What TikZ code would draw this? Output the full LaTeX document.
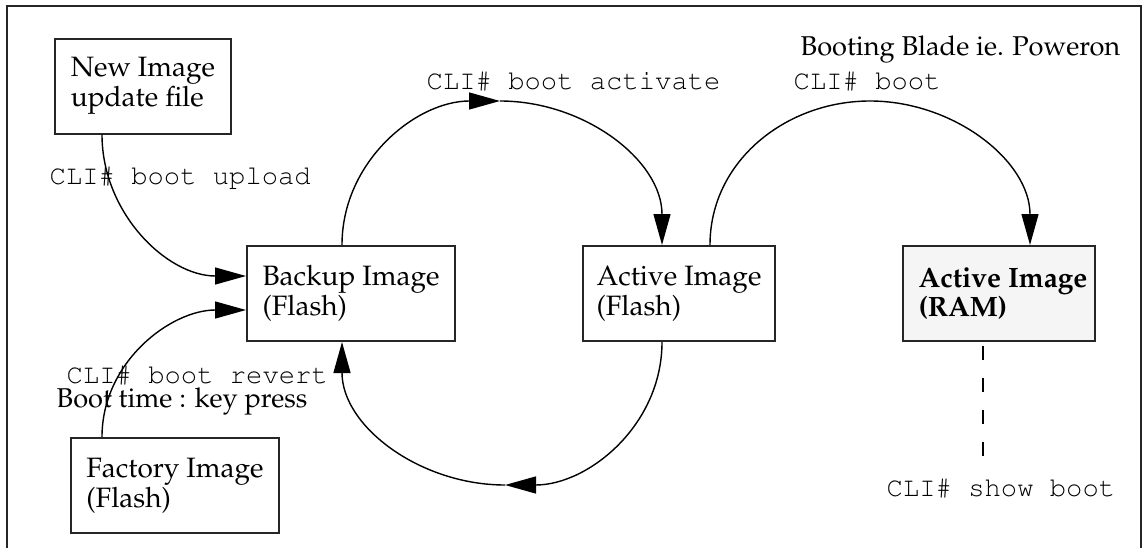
\documentclass[tikz,border=0pt]{standalone}
\usepackage[T1]{fontenc}
\usepackage{palatino}
\usetikzlibrary{arrows.meta,calc}
\tikzstyle{imgbox} = [draw=black!85,line width=1pt,rectangle,align=left,inner sep=0,
                      minimum height=47.5pt,font=\fontsize{14}{12.5}\selectfont]
\tikzstyle{cmd}  = [anchor=base west,inner sep=0,font=\ttfamily\fontsize{13.6}{15}\selectfont]
\tikzstyle{note} = [anchor=base west,inner sep=0,font=\fontsize{13.6}{16}\selectfont]

\begin{document}
\begin{tikzpicture}[
    x=0.5pt, y=0.5pt,
    ->,
    >={Triangle[length=15.5pt,width=8.5pt]},
    line width=0.7pt
]
   \useasboundingbox (0,0) rectangle (1146,548);
   \draw[-,line width=1pt,black!85] (7,0) -- (7,542) -- (1141,542) -- (1141,0);

   \node[imgbox,minimum width=88pt]  (new)     at (143,462)   {New Image\\update file};
   \node[imgbox,minimum width=104pt] (backup)  at (351,254.5) {Backup Image\\(Flash)};
   \node[imgbox,minimum width=96pt]  (active)  at (679,254.5) {Active Image\\(Flash)};
   \node[imgbox,minimum width=96pt,fill=black!4,
         font=\fontsize{14}{12.5}\selectfont\bfseries]
                                     (ram)     at (999,254.5) {\hspace*{4pt}Active Image\\\hspace*{4pt}(RAM)};
   \node[imgbox,minimum width=104pt] (factory) at (175,62.5)  {Factory Image\\(Flash)};

   \node[note] (poweron)  at (800,493) {Booting Blade ie. Poweron};
   \node[cmd]  (bootcmd)  at (793,459) {CLI\# boot};
   \node[cmd]  (activate) at (426,459) {CLI\# boot activate};
   \node[cmd]  (upload)   at (49,364)  {CLI\# boot upload};
   \node[cmd]  (revert)   at (66,165)  {CLI\# boot revert};
   \node[note] (keypress) at (56,141)  {Boot time : key press};
   \node[cmd]  (show)     at (886,52)  {CLI\# show boot};

   \coordinate (toppeak)  at (500,447);
   \coordinate (bootpeak) at (870,447);
   \coordinate (lowpeak)  at (505,63);

   % upload / revert into the backup image
   \draw ($(new.south west)+(48,0)$) to[out=-90,in=180] ($(backup.north west)+(0,-31)$);
   \draw ($(factory.north west)+(32,0)$) to[out=90,in=180] ($(backup.north west)+(0,-65)$);

   % activate: backup -> active
   \draw ($(backup.north west)+(96,0)$) to[out=90,in=180] (toppeak);
   \draw (toppeak) to[out=0,in=90] ($(active.north west)+(80,0)$);

   % back again, underneath
   \draw ($(active.south west)+(80,0)$) to[out=-90,in=0] (lowpeak);
   \draw (lowpeak) to[out=180,in=-90] ($(backup.south west)+(96,0)$);

   % boot into ram
   \draw ($(active.north west)+(128,0)$) to[out=90,in=180] (bootpeak)
         to[out=0,in=90] ($(ram.north west)+(128,0)$);

   \draw[-,dash pattern=on 7pt off 9pt] ($(ram.south)+(-16,-4)$) -- ($(ram.south)+(-16,-117)$);

\end{tikzpicture}
\end{document}
